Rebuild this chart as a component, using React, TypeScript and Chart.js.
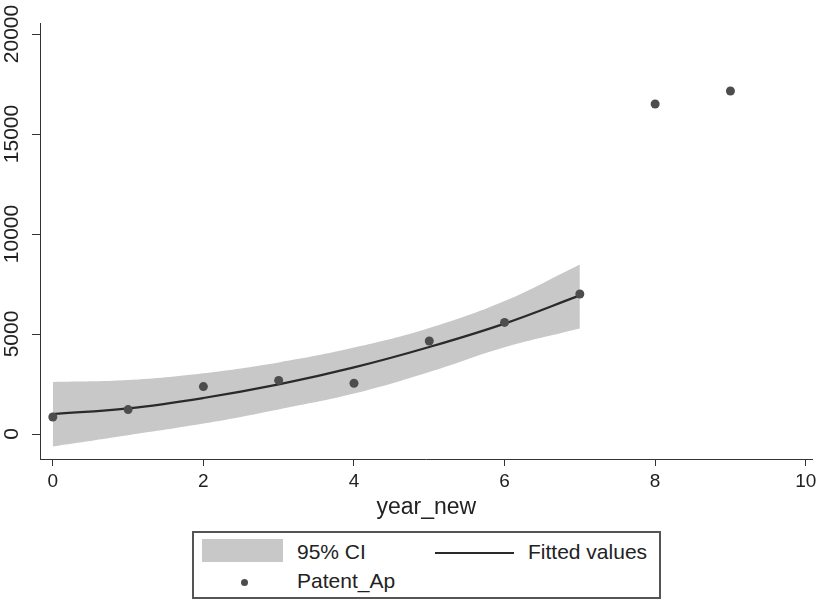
import React, { useEffect, useRef } from "react";
import { Chart, registerables } from "chart.js";

Chart.register(...registerables);

// Observed applications by year index
const yearNew = [0, 1, 2, 3, 4, 5, 6, 7, 8, 9];
const patentAp = [850, 1220, 2370, 2680, 2540, 4650, 5580, 7000, 16500, 17150];

// Fitted curve and its 95% confidence band over the estimation window
const fitYears = [0, 1, 2, 3, 4, 5, 6, 7];
const fittedValues = [1000, 1280, 1800, 2480, 3330, 4350, 5520, 6930];
const ciUpper = [2600, 2700, 3040, 3580, 4320, 5300, 6650, 8480];
const ciLower = [-620, -60, 520, 1230, 2020, 3100, 4340, 5280];

// Axis ticks
const xTicks = [0, 2, 4, 6, 8, 10];
const yTicks = [0, 5000, 10000, 15000, 20000];
const yTickLabels = ["0", "5000", "10000", "15000", "20000"];

const AXIS_COLOR = "#333333";
const TEXT_COLOR = "#222222";
const FONT = '"Liberation Sans", Arial, sans-serif';

const rotatedYLabels = {
  id: "rotatedYLabels",
  afterDraw(chart: any) {
    const ys = chart.scales.y;
    const ctx = chart.ctx;
    ctx.save();
    ctx.font = "21px " + FONT;
    ctx.fillStyle = TEXT_COLOR;
    ctx.textAlign = "center";
    ctx.textBaseline = "alphabetic";
    yTicks.forEach((v, i) => {
      const py = ys.getPixelForValue(v);
      ctx.save();
      ctx.translate(18, py);
      ctx.rotate(-Math.PI / 2);
      ctx.fillText(yTickLabels[i], 0, 0);
      ctx.restore();
    });
    ctx.restore();
  },
};

export default function App() {
  const canvasRef = useRef<HTMLCanvasElement | null>(null);

  useEffect(() => {
    document.body.style.margin = "0";
    const canvas = canvasRef.current;
    if (!canvas) return;
    const toPts = (xs: number[], ys: number[]) => xs.map((x, i) => ({ x, y: ys[i] }));

    const chart = new Chart(canvas, {
      type: "scatter",
      data: {
        datasets: [
          {
            label: "Patent_Ap",
            data: toPts(yearNew, patentAp),
            backgroundColor: "#4d4d4d",
            borderColor: "#4d4d4d",
            pointRadius: 4.5,
            pointBorderWidth: 0,
            showLine: false,
            order: 0,
          },
          {
            label: "Fitted values",
            data: toPts(fitYears, fittedValues),
            borderColor: "#2a2a2a",
            borderWidth: 2.2,
            pointRadius: 0,
            showLine: true,
            tension: 0.4,
            order: 1,
          } as any,
          {
            label: "95% CI",
            data: toPts(fitYears, ciUpper),
            borderWidth: 0,
            borderColor: "rgba(0,0,0,0)",
            backgroundColor: "#c8c8c8",
            pointRadius: 0,
            showLine: true,
            fill: "+1",
            tension: 0.4,
            order: 2,
          } as any,
          {
            label: "95% CI lower",
            data: toPts(fitYears, ciLower),
            borderWidth: 0,
            borderColor: "rgba(0,0,0,0)",
            pointRadius: 0,
            showLine: true,
            fill: false,
            tension: 0.4,
            order: 3,
          } as any,
        ],
      },
      options: {
        responsive: false,
        animation: false,
        layout: { padding: { top: 23, left: 0, right: 0, bottom: 0 } },
        plugins: {
          legend: { display: false },
          tooltip: { enabled: false },
        },
        scales: {
          x: {
            type: "linear",
            min: -0.17,
            max: 10.09,
            afterFit(scale: any) {
              scale.height = 142;
              scale.paddingLeft = 0;
              scale.paddingRight = 0;
            },
            afterBuildTicks(scale: any) {
              scale.ticks = xTicks.map((v) => ({ value: v }));
            },
            border: { display: true, color: AXIS_COLOR, width: 1 },
            grid: {
              display: true,
              drawOnChartArea: false,
              drawTicks: true,
              tickLength: 7,
              color: AXIS_COLOR,
            },
            ticks: {
              autoSkip: false,
              maxRotation: 0,
              padding: 4,
              color: TEXT_COLOR,
              font: { family: FONT, size: 19 },
            },
            title: {
              display: true,
              text: "year_new",
              color: TEXT_COLOR,
              padding: { top: 0, bottom: 80 },
              font: { family: FONT, size: 23 },
            },
          },
          y: {
            type: "linear",
            min: -1250,
            max: 20550,
            afterFit(scale: any) {
              scale.width = 40;
            },
            afterBuildTicks(scale: any) {
              scale.ticks = yTicks.map((v) => ({ value: v }));
            },
            border: { display: true, color: AXIS_COLOR, width: 1 },
            grid: {
              display: true,
              drawOnChartArea: false,
              drawTicks: true,
              tickLength: 8,
              color: AXIS_COLOR,
            },
            ticks: { display: false },
          },
        },
      },
      plugins: [rotatedYLabels],
    });

    return () => chart.destroy();
  }, []);

  const textStyle: React.CSSProperties = {
    position: "absolute",
    fontFamily: FONT,
    fontSize: 21,
    lineHeight: "24px",
    color: TEXT_COLOR,
    whiteSpace: "nowrap",
  };

  return (
    <div style={{ position: "relative", width: 817, height: 601, background: "#fff", overflow: "hidden" }}>
      <canvas ref={canvasRef} width={817} height={601} style={{ display: "block" }} />
      <div
        style={{
          position: "absolute",
          left: 192,
          top: 531,
          width: 469,
          height: 68,
          border: "2px solid #555",
          boxSizing: "border-box",
          background: "#fff",
        }}
      >
        <div style={{ position: "absolute", left: 8, top: 6, width: 81, height: 23, background: "#c8c8c8" }} />
        <div style={{ ...textStyle, left: 103, top: 7 }}>95% CI</div>
        <div style={{ position: "absolute", left: 241, top: 19, width: 79, height: 2, background: "#2a2a2a" }} />
        <div style={{ ...textStyle, left: 334, top: 7 }}>Fitted values</div>
        <div
          style={{
            position: "absolute",
            left: 46.5,
            top: 45.5,
            width: 7,
            height: 7,
            borderRadius: "50%",
            background: "#4d4d4d",
          }}
        />
        <div style={{ ...textStyle, left: 103, top: 36 }}>Patent_Ap</div>
      </div>
    </div>
  );
}
